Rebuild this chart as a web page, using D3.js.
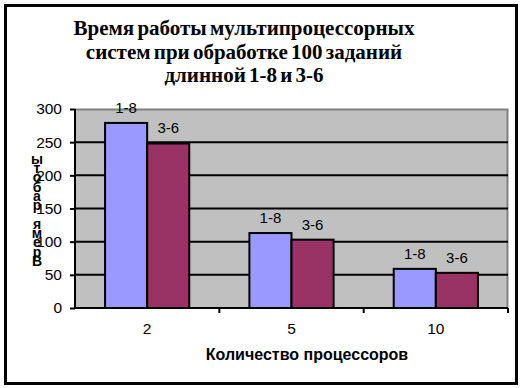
<!DOCTYPE html>
<html>
<head>
<meta charset="utf-8">
<script src="https://cdn.jsdelivr.net/npm/d3@7"></script>
<style>
  body { margin: 0; background: #fff; }
</style>
</head>
<body>
<div id="chart"></div>
<script>
const categories = ["2", "5", "10"];
const series = ["1-8", "3-6"];
const values = {
  "1-8": [279, 113, 59],
  "3-6": [248, 103, 53]
};
const yTicks = [0, 50, 100, 150, 200, 250, 300];
const titleLines = ["Время работы мультипроцессорных", "систем  при обработке 100 заданий", "длинной 1-8 и 3-6"];
const yTitle = "Время работы";
const xTitle = "Количество процессоров";
const colors = { "1-8": "#9999ff", "3-6": "#993366" };

const width = 521, height = 388;
const plot = { left: 75, right: 508, top: 109, bottom: 308 };
const sans = "Liberation Sans, Arial, sans-serif";

const svg = d3.select("#chart").append("svg")
  .attr("width", width).attr("height", height);

// outer frame
svg.append("rect")
  .attr("x", 5.5).attr("y", 5.5).attr("width", 511).attr("height", 378)
  .attr("fill", "#fff").attr("stroke", "#000").attr("stroke-width", 3);

// title
svg.append("text")
  .attr("text-anchor", "middle")
  .attr("font-family", "Liberation Serif, Times New Roman, serif")
  .attr("font-weight", "bold").attr("font-size", 21)
  .attr("word-spacing", -2)
  .selectAll("tspan").data(titleLines).join("tspan")
  .attr("x", 244).attr("y", (d, i) => 35 + i * 23.5)
  .text(d => d);

const x0 = d3.scaleBand().domain(categories).range([plot.left, plot.right]);
const x1 = d3.scaleBand().domain(series).range([0, x0.bandwidth()]).paddingOuter(0.714);
const y = d3.scaleLinear().domain([0, 300]).range([plot.bottom, plot.top]);

// plot background
svg.append("rect")
  .attr("x", plot.left).attr("y", plot.top)
  .attr("width", plot.right - plot.left).attr("height", plot.bottom - plot.top)
  .attr("fill", "#c0c0c0");
svg.append("path")
  .attr("d", `M${plot.left},${plot.top + 0.5}H${plot.right - 0.5}V${plot.bottom}`)
  .attr("fill", "none").attr("stroke", "#808080").attr("stroke-width", 2);

// gridlines
svg.append("g").selectAll("line").data(yTicks.filter(t => t > 0 && t < 300)).join("line")
  .attr("x1", plot.left).attr("x2", plot.right)
  .attr("y1", d => y(d)).attr("y2", d => y(d))
  .attr("stroke", "#000").attr("stroke-width", 2);

// bars
const groups = svg.append("g").selectAll("g").data(categories).join("g")
  .attr("transform", d => `translate(${x0(d)},0)`);
groups.selectAll("rect")
  .data((c, i) => series.map(s => ({ s, v: values[s][i] })))
  .join("rect")
  .attr("x", d => x1(d.s)).attr("width", x1.bandwidth())
  .attr("y", d => y(d.v)).attr("height", d => y(0) - y(d.v))
  .attr("fill", d => colors[d.s]).attr("stroke", "#000").attr("stroke-width", 2);
groups.selectAll("text")
  .data((c, i) => series.map(s => ({ s, v: values[s][i] })))
  .join("text")
  .attr("x", d => x1(d.s) + x1.bandwidth() / 2)
  .attr("y", d => y(d.v) - 10)
  .attr("text-anchor", "middle")
  .attr("font-family", sans).attr("font-size", 15)
  .text(d => d.s);

// y axis
const yAxis = svg.append("g")
  .attr("transform", `translate(${plot.left},0)`)
  .call(d3.axisLeft(y).tickValues(yTicks).tickSize(5).tickPadding(8));
yAxis.selectAll("path, line").attr("stroke", "#000").attr("stroke-width", 2);
yAxis.select(".domain").attr("d", `M0,${plot.top}V${plot.bottom}`);
yAxis.selectAll("text").attr("font-family", sans)
  .attr("font-size", 15.5).attr("fill", "#000");

// x axis
const xAxis = svg.append("g")
  .attr("transform", `translate(0,${plot.bottom})`)
  .call(d3.axisBottom(x0).tickSize(0).tickPadding(15));
xAxis.select(".domain").attr("d", `M${plot.left},0H${plot.right}`)
  .attr("stroke", "#000").attr("stroke-width", 2);
xAxis.selectAll("text").attr("font-family", sans)
  .attr("font-size", 15.5).attr("fill", "#000");
xAxis.append("g").selectAll("line").data(categories).join("line")
  .attr("x1", d => x0(d) + x0.bandwidth()).attr("x2", d => x0(d) + x0.bandwidth())
  .attr("y1", 0).attr("y2", 5).attr("stroke", "#000").attr("stroke-width", 2);

// x title
svg.append("text")
  .attr("x", 307).attr("y", 360).attr("text-anchor", "middle")
  .attr("font-family", sans)
  .attr("font-weight", "bold").attr("font-size", 16)
  .text(xTitle);

// y title: upright letters stacked bottom-to-top
svg.append("g").selectAll("text").data(yTitle.split("")).join("text")
  .attr("x", 37).attr("y", (d, i) => 266 - i * 9.3)
  .attr("text-anchor", "middle")
  .attr("font-family", sans)
  .attr("font-weight", "bold").attr("font-size", 14)
  .text(d => d);
</script>
</body>
</html>
